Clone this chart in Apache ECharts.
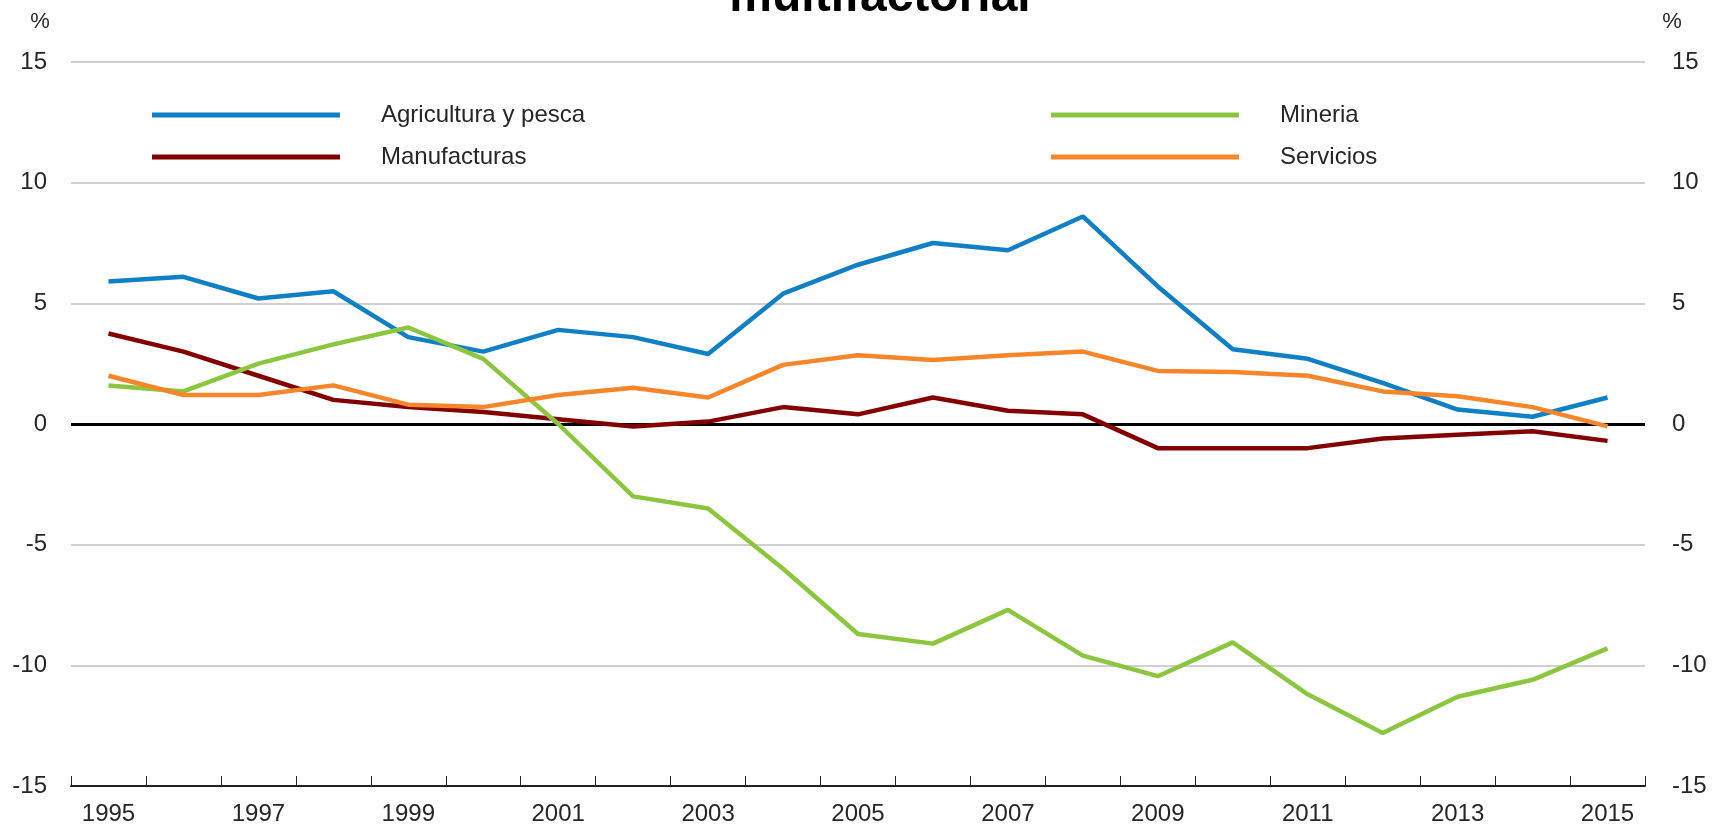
<!DOCTYPE html>
<html>
<head>
<meta charset="utf-8">
<script src="https://cdn.jsdelivr.net/npm/echarts@6/dist/echarts.min.js"></script>
<style>
  html, body { margin:0; padding:0; background:#fff; }
  #chart { width:1719px; height:826px; }
</style>
</head>
<body>
<div id="chart"></div>
<script>

var years = ['1995','1996','1997','1998','1999','2000','2001','2002','2003','2004','2005',
             '2006','2007','2008','2009','2010','2011','2012','2013','2014','2015'];

var agricultura = [5.9, 6.1, 5.2, 5.5, 3.6, 3.0, 3.9, 3.6, 2.9, 5.4, 6.6,
                   7.5, 7.2, 8.6, 5.7, 3.1, 2.7, 1.7, 0.6, 0.3, 1.1];
var manufacturas = [3.75, 3.0, 2.0, 1.0, 0.7, 0.5, 0.2, -0.1, 0.1, 0.7, 0.4,
                    1.1, 0.55, 0.4, -1.0, -1.0, -1.0, -0.6, -0.45, -0.3, -0.7];
var mineria = [1.6, 1.35, 2.5, 3.3, 4.0, 2.7, 0.0, -3.0, -3.5, -6.0, -8.7,
               -9.1, -7.7, -9.6, -10.45, -9.05, -11.2, -12.8, -11.3, -10.6, -9.3];
var servicios = [2.0, 1.2, 1.2, 1.6, 0.8, 0.7, 1.2, 1.5, 1.1, 2.45, 2.85,
                 2.65, 2.85, 3.0, 2.2, 2.15, 2.0, 1.35, 1.15, 0.7, -0.1];

var FONT = '"Liberation Sans", Arial, sans-serif';
var TXT = '#262626';

var myChart = echarts.init(document.getElementById('chart'));

function lineSeries(name, data, color) {
  return {
    name: name,
    type: 'line',
    data: data,
    symbol: 'none',
    lineStyle: { width: 4.5, color: color },
    itemStyle: { color: color },
    z: 3
  };
}

function yAxisDef(pos) {
  return {
    type: 'value',
    position: pos,
    min: -15,
    max: 15,
    interval: 5,
    axisLine: { show: false },
    axisTick: { show: false },
    axisLabel: { color: TXT, fontSize: 24, fontFamily: FONT, margin: pos == 'left' ? 24 : 27 },
    splitLine: { show: pos == 'left', lineStyle: { color: '#d0d0d0', width: 2 } }
  };
}

var legendText = { color: TXT, fontSize: 24, fontFamily: FONT, lineHeight: 24, padding: [0, 0, 0, 36] };

var option = {
  animation: false,
  grid: { left: 71, right: 74, top: 62, bottom: 36 },
  graphic: [
    { type: 'text',
      style: { text: 'multifactorial', x: 880, y: -2, align: 'center', verticalAlign: 'middle',
               font: 'bold 48px ' + FONT, fill: '#000' } },
    { type: 'text', style: { text: '%', x: 40, y: 22, align: 'center', verticalAlign: 'middle',
               font: '22px ' + FONT, fill: TXT } },
    { type: 'text', style: { text: '%', x: 1672, y: 22, align: 'center', verticalAlign: 'middle',
               font: '22px ' + FONT, fill: TXT } }
  ],
  legend: [
    { data: ['Agricultura y pesca', 'Manufacturas'], orient: 'vertical', left: 147, top: 98,
      icon: 'rect', itemWidth: 188, itemHeight: 5, itemGap: 18, textStyle: legendText },
    { data: ['Mineria', 'Servicios'], orient: 'vertical', left: 1046, top: 98,
      icon: 'rect', itemWidth: 188, itemHeight: 5, itemGap: 18, textStyle: legendText }
  ],
  xAxis: {
    type: 'category',
    data: years,
    boundaryGap: true,
    axisLine: { onZero: false, lineStyle: { color: '#222', width: 2 } },
    axisTick: { show: true, inside: true, length: 10, interval: 0, lineStyle: { color: '#222', width: 1 } },
    axisLabel: { interval: 1, color: TXT, fontSize: 24, fontFamily: FONT, margin: 16 },
    splitLine: { show: false }
  },
  yAxis: [ yAxisDef('left'), yAxisDef('right') ],
  series: [
    Object.assign(lineSeries('Agricultura y pesca', agricultura, '#0f7fc6'), {
      markLine: {
        silent: true, symbol: 'none', label: { show: false },
        lineStyle: { color: '#000', width: 3, type: 'solid' },
        data: [{ yAxis: 0 }],
        z: 1
      }
    }),
    lineSeries('Manufacturas', manufacturas, '#820000'),
    lineSeries('Mineria', mineria, '#8cc63e'),
    lineSeries('Servicios', servicios, '#f7862a')
  ]
};

myChart.setOption(option);
</script>
</body>
</html>
